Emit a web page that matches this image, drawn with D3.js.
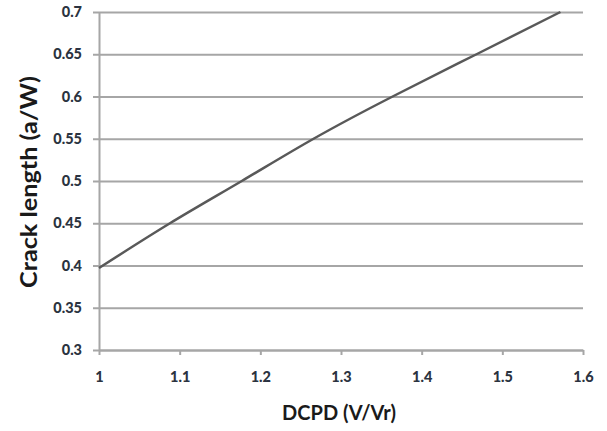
<!DOCTYPE html>
<html><head><meta charset="utf-8">
<script src="https://cdn.jsdelivr.net/npm/d3@7"></script>
<style>body{margin:0;background:#fff}svg{display:block}</style>
</head><body>
<script>
const xVals = [1.0, 1.088, 1.177, 1.266, 1.364, 1.468, 1.572];
const yVals = [0.397, 0.45, 0.5, 0.55, 0.6, 0.65, 0.7];
const xTicks = [1, 1.1, 1.2, 1.3, 1.4, 1.5, 1.6];
const yTicks = [0.3, 0.35, 0.4, 0.45, 0.5, 0.55, 0.6, 0.65, 0.7];
const xTitle = "DCPD (V/Vr)";
const yTitle = "Crack length (a/W)";

const W = 607, H = 431;
const m = {left: 99, right: 24, top: 12, bottom: 81};
const svg = d3.select("body").append("svg").attr("width", W).attr("height", H);
const x = d3.scaleLinear().domain([1, 1.6]).range([m.left, W - m.right]);
const y = d3.scaleLinear().domain([0.3, 0.7]).range([H - m.bottom, m.top]);
const font = "Lato, 'Open Sans', sans-serif";

const ya = svg.append("g").attr("transform", `translate(${m.left},0)`)
  .call(d3.axisLeft(y).tickValues(yTicks).tickSize(-(W - m.left - m.right)).tickSizeOuter(0)
    .tickFormat(d => String(+d.toFixed(2))));
ya.select(".domain").attr("stroke", "#a6a6a6").attr("stroke-width", 2);
ya.selectAll(".tick line").attr("stroke", "#a6a6a6").attr("stroke-width", 2).attr("x1", -6);
ya.selectAll(".tick text").attr("x", -17).attr("font-family", font).attr("font-weight", 900)
  .attr("font-size", 14.5).attr("fill", "#2b3340");

const xa = svg.append("g").attr("transform", `translate(0,${H - m.bottom})`)
  .call(d3.axisBottom(x).tickValues(xTicks).tickSize(5).tickSizeOuter(0)
    .tickFormat(d => String(+d.toFixed(1))));
xa.select(".domain").attr("stroke", "#a6a6a6").attr("stroke-width", 2);
xa.selectAll(".tick line").attr("stroke", "#a6a6a6").attr("stroke-width", 2);
xa.selectAll(".tick text").attr("y", 22).attr("font-family", font).attr("font-weight", 900)
  .attr("font-size", 14.5).attr("fill", "#2b3340");

const pts = xVals.map((v, i) => [v, yVals[i]]);
svg.append("path").datum(pts)
  .attr("d", d3.line().x(d => x(d[0])).y(d => y(d[1])).curve(d3.curveNatural))
  .attr("fill", "none").attr("stroke", "#595959").attr("stroke-width", 2.5);

svg.append("text").attr("x", 339).attr("y", 420).attr("text-anchor", "middle")
  .attr("font-family", font).attr("font-weight", "bold").attr("font-size", 20).attr("fill", "#1a1a1a")
  .text(xTitle);
svg.append("text").attr("transform", "translate(37,182) rotate(-90)").attr("text-anchor", "middle")
  .attr("font-family", font).attr("font-weight", "bold").attr("font-size", 22).attr("fill", "#1a1a1a")
  .attr("textLength", 212).attr("lengthAdjust", "spacingAndGlyphs")
  .text(yTitle);
</script>
</body></html>
